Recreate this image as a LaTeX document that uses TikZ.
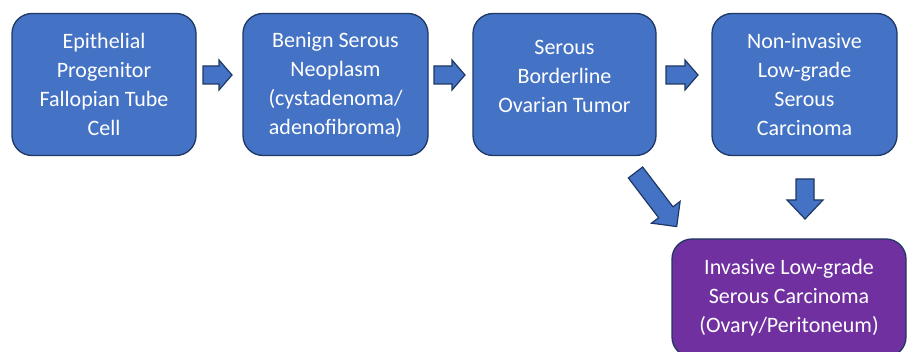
\documentclass[tikz,border=0pt]{standalone}
\usepackage{fontspec}
\setmainfont{Carlito}
\definecolor{boxblue}{HTML}{4472C4}
\definecolor{boxpurple}{HTML}{7030A0}
\definecolor{edgec}{HTML}{1F3864}
\begin{document}
\begin{tikzpicture}[x=1pt,y=-1pt,
  box/.style={draw=edgec, line width=1.3pt, fill=boxblue, rounded corners=20pt,
    text=white, align=center, font=\fontsize{22}{29}\selectfont, inner sep=0pt},
  boxtext/.style={text=white, align=center, font=\fontsize{22}{29}\selectfont, inner sep=0pt},
  barrow/.style={draw=edgec, line width=1.2pt, fill=boxblue, line join=miter},
  pics/barr/.style n args={3}{code={
    \draw[barrow] (0,-9) -- ({#1-#3},-9) -- ({#1-#3},-#2) -- (#1,0)
      -- ({#1-#3},#2) -- ({#1-#3},9) -- (0,9) -- cycle;}}]
\useasboundingbox (0,0) rectangle (908,352);
\clip (0,0) rectangle (908,352);
\fill[white] (0,0) rectangle (908,352);

\node[box, minimum width=184pt, minimum height=142pt] (b1) at (104,84.5)
  {Epithelial\\Progenitor\\Fallopian Tube\\Cell};
\node[box, minimum width=185pt, minimum height=142pt] (b2) at (335.5,84.5)
  {Benign Serous\\Neoplasm\\(cystadenoma/\\adenofibroma)};
\node[box, minimum width=183pt, minimum height=142pt] (b3) at (564.5,84.5) {};
\node[boxtext] (t3) at (564.5,76) {Serous\\Borderline\\Ovarian Tumor};
\node[box, minimum width=185pt, minimum height=142pt] (b4) at (804.5,84.5)
  {Non-invasive\\Low-grade\\Serous\\Carcinoma};
\node[box, fill=boxpurple, minimum width=234pt, minimum height=118pt] (b5) at (789,298)
  {Invasive Low-grade\\Serous Carcinoma\\(Ovary/Peritoneum)};

\pic (a1) at (203,75) {barr={29}{15}{13}};
\pic (a2) at (434,75) {barr={31}{15}{13}};
\pic (a3) at (666,75) {barr={32}{15}{13}};
\pic[rotate=-52.7] (a4) at (635.5,172.5) {barr={68}{18}{18}};
\pic[rotate=-90] (a5) at (805,179) {barr={40}{18}{19}};
\end{tikzpicture}
\end{document}
